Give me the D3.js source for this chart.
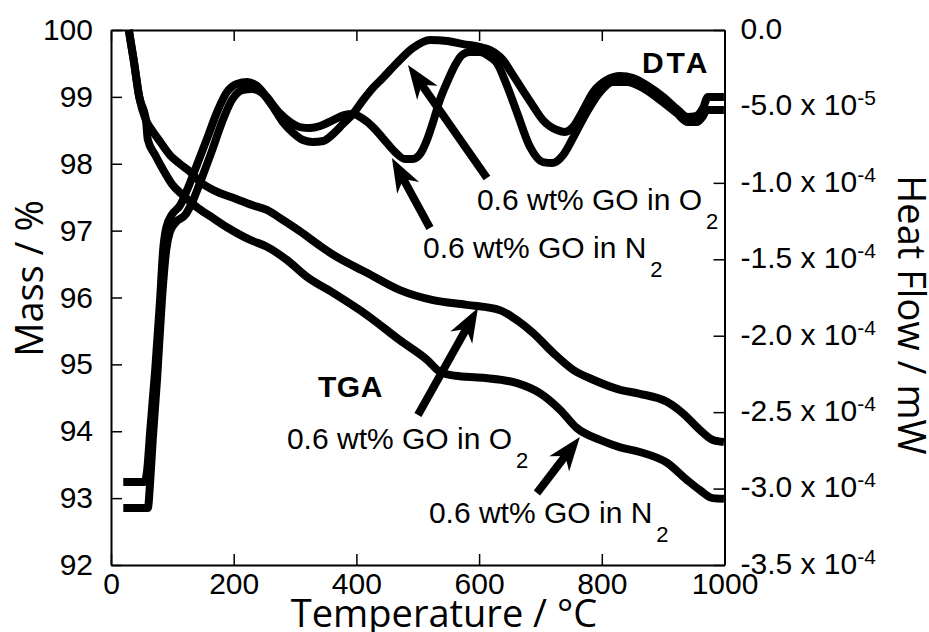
<!DOCTYPE html>
<html><head><meta charset="utf-8">
<script src="https://cdn.jsdelivr.net/npm/d3@7"></script>
<style>body{margin:0;background:#fff}svg{display:block}</style>
</head><body>
<svg id="c" width="929" height="632"></svg>
<script>
// ---------- data ----------
const tempTicks = [0, 200, 400, 600, 800, 1000];
const massTicks = [92, 93, 94, 95, 96, 97, 98, 99, 100];
const hfTicks = [0, -5e-5, -1e-4, -1.5e-4, -2e-4, -2.5e-4, -3e-4, -3.5e-4];
const HF_UNIT = 1e-4; // heat-flow arrays below are in units of 1e-4 mW

// TGA, 0.6 wt% GO in O2 (mass %)
const tgaO2T = [29,37,46,57,67,80,96,112,129,145,173,199,231,254,280,308,341,362,417,471,525,580,634,662,688,721,753,786,830,862,906,932,960,981,999];
const tgaO2Mass = [100.0,99.55,99.0,98.65,98.50,98.33,98.13,98.00,97.88,97.73,97.58,97.49,97.38,97.31,97.16,96.99,96.77,96.64,96.37,96.11,95.96,95.89,95.81,95.66,95.47,95.17,94.92,94.77,94.62,94.56,94.44,94.27,94.02,93.87,93.84];
// TGA, 0.6 wt% GO in N2 (mass %)
const tgaN2T = [29,37,46,57,60,72,85,99,117,140,161,189,227,254,287,319,362,417,471,515,536,561,606,662,699,732,759,797,830,862,906,939,960,981,999];
const tgaN2Mass = [100.0,99.55,99.0,98.65,98.36,98.13,97.91,97.70,97.53,97.35,97.22,97.05,96.86,96.76,96.56,96.31,96.07,95.74,95.36,95.07,94.89,94.83,94.80,94.72,94.57,94.32,94.05,93.87,93.76,93.69,93.53,93.27,93.12,93.00,92.99];
// DTA, 0.6 wt% GO in N2 (x 1e-4 mW)
const dtaN2T = [20,55,59,64,72,80,85,90,99,113,124,140,157,173,189,205,222,238,254,275,292,308,324,341,362,381,394,411,427,443,463,479,492,504,515,525,536,548,561,572,585,601,618,629,645,662,683,704,720,737,753,773,797,818,841,867,895,922,940,955,965,971,999];
const dtaN2HF = [-2.957,-2.957,-2.878,-2.617,-2.224,-1.766,-1.439,-1.295,-1.210,-1.145,-1.047,-0.883,-0.706,-0.536,-0.406,-0.353,-0.340,-0.366,-0.438,-0.543,-0.602,-0.635,-0.641,-0.628,-0.589,-0.556,-0.550,-0.582,-0.635,-0.707,-0.798,-0.844,-0.844,-0.811,-0.720,-0.602,-0.458,-0.340,-0.229,-0.164,-0.144,-0.144,-0.177,-0.216,-0.360,-0.543,-0.765,-0.864,-0.870,-0.818,-0.707,-0.556,-0.406,-0.340,-0.340,-0.379,-0.458,-0.543,-0.602,-0.602,-0.563,-0.523,-0.523];
// DTA, 0.6 wt% GO in O2 (x 1e-4 mW)
const dtaO2T = [20,60,64,68,75,83,90,96,106,121,134,148,165,181,197,214,230,246,262,280,297,313,329,346,362,378,394,411,427,443,466,492,520,548,574,601,618,639,655,671,688,704,727,740,753,768,786,808,830,851,875,900,924,940,953,965,973,999];
const dtaO2HF = [-3.127,-3.127,-2.944,-2.682,-2.290,-1.766,-1.439,-1.321,-1.256,-1.210,-1.112,-0.968,-0.785,-0.602,-0.458,-0.393,-0.386,-0.412,-0.491,-0.602,-0.674,-0.720,-0.733,-0.726,-0.680,-0.615,-0.550,-0.458,-0.379,-0.314,-0.216,-0.118,-0.065,-0.072,-0.092,-0.111,-0.131,-0.196,-0.294,-0.393,-0.497,-0.589,-0.654,-0.667,-0.635,-0.536,-0.406,-0.327,-0.301,-0.314,-0.366,-0.438,-0.523,-0.569,-0.563,-0.510,-0.438,-0.438];

// annotations (positions in temperature / mass coordinates)
const labelTexts = ["0.6 wt% GO in O", "0.6 wt% GO in N", "0.6 wt% GO in O", "0.6 wt% GO in N"];
const labelSubs = ["2", "2", "2", "2"];
const labelT = [596.5, 508.5, 286.8, 518.2];
const labelMass = [97.308, 96.591, 93.735, 92.628];
const arrowTailT = [612.8, 519.9, 500.3, 694.3];
const arrowTailMass = [97.787, 97.039, 94.243, 93.077];
const arrowTipT = [484.0, 457.9, 598.1, 764.3];
const arrowTipMass = [99.477, 98.086, 95.843, 93.914];
const headTexts = ["DTA", "TGA"];
const headT = [865.4, 337.4];
const headMass = [99.357, 94.512];

// ---------- chart ----------
const svg = d3.select("#c");
const L = 111, R = 724.5, TOP = 30, B = 565;
const x = d3.scaleLinear().domain([0, 1000]).range([L, R]);
const yM = d3.scaleLinear().domain([92, 100]).range([B, TOP]);
const yH = d3.scaleLinear().domain([-3.5e-4, 0]).range([B, TOP]);
const sansA = "'Liberation Sans', Arial, Helvetica, sans-serif";
const sansT = "'Open Sans', sans-serif";

function styleAxis(g) {
  g.select(".domain").attr("stroke", "#000").attr("stroke-width", 2);
  g.selectAll(".tick line").attr("stroke", "#000").attr("stroke-width", 1.5);
  g.selectAll("text").attr("font-family", sansA).attr("font-size", 30).attr("fill", "#000");
}

svg.append("g").attr("transform", `translate(0,${B})`)
  .call(d3.axisBottom(x).tickValues(tempTicks).tickSize(-11).tickSizeOuter(0).tickPadding(8).tickFormat(d3.format("d")))
  .call(styleAxis);
svg.append("g").attr("transform", `translate(0,${TOP})`)
  .call(d3.axisTop(x).tickValues(tempTicks).tickSize(-11).tickSizeOuter(0).tickFormat(() => ""))
  .call(styleAxis);
svg.append("g").attr("transform", `translate(${L},0)`)
  .call(d3.axisLeft(yM).tickValues(massTicks).tickSize(-11).tickSizeOuter(0).tickPadding(18).tickFormat(d3.format("d")))
  .call(styleAxis);
const gR = svg.append("g").attr("transform", `translate(${R},0)`)
  .call(d3.axisRight(yH).tickValues(hfTicks).tickSize(-11).tickSizeOuter(0).tickPadding(16))
  .call(styleAxis);
gR.selectAll(".tick text").attr("dy", "0.28em").each(function (d) {
  const t = d3.select(this);
  t.text(null);
  if (d === 0) { t.text("0.0"); return; }
  const parts = d.toExponential(1).split("e");
  t.append("tspan").text(parts[0] + " x 10");
  t.append("tspan").attr("font-size", 21).attr("dy", -10).text(parts[1]);
});

// curves
const lineM = d3.line().x(d => x(d[0])).y(d => yM(d[1])).curve(d3.curveMonotoneX);
const lineH = d3.line().x(d => x(d[0])).y(d => yH(d[1] * HF_UNIT)).curve(d3.curveMonotoneX);
const curves = svg.append("g").attr("fill", "none").attr("stroke", "#000").attr("stroke-width", 8).attr("stroke-linejoin", "round");
curves.append("path").attr("d", lineM(d3.zip(tgaO2T, tgaO2Mass)));
curves.append("path").attr("d", lineM(d3.zip(tgaN2T, tgaN2Mass)));
curves.append("path").attr("d", lineH(d3.zip(dtaN2T, dtaN2HF)));
curves.append("path").attr("d", lineH(d3.zip(dtaO2T, dtaO2HF)));

// arrows
const ag = svg.append("g");
arrowTailT.forEach((_, i) => {
  const x0 = x(arrowTailT[i]), y0 = yM(arrowTailMass[i]);
  const x1 = x(arrowTipT[i]), y1 = yM(arrowTipMass[i]);
  const len = Math.hypot(x1 - x0, y1 - y0);
  const ux = (x1 - x0) / len, uy = (y1 - y0) / len, nx = -uy, ny = ux;
  const hl = 34, hw = 12.5, nl = 24;
  ag.append("line").attr("x1", x0).attr("y1", y0)
    .attr("x2", x1 - ux * nl).attr("y2", y1 - uy * nl)
    .attr("stroke", "#000").attr("stroke-width", 8);
  const pts = [[x1, y1], [x1 - ux * hl + nx * hw, y1 - uy * hl + ny * hw], [x1 - ux * nl, y1 - uy * nl], [x1 - ux * hl - nx * hw, y1 - uy * hl - ny * hw]];
  ag.append("path").attr("d", "M" + pts.map(p => p.join(",")).join("L") + "Z").attr("fill", "#000");
});

// labels
labelTexts.forEach((s, i) => {
  const t = svg.append("text").attr("x", x(labelT[i])).attr("y", yM(labelMass[i]))
    .attr("font-family", sansA).attr("font-size", 30).attr("fill", "#000");
  t.append("tspan").text(s);
  t.append("tspan").attr("dx", 4).attr("dy", 19).attr("font-size", 22).text(labelSubs[i]);
});
headTexts.forEach((s, i) => {
  svg.append("text").attr("x", x(headT[i])).attr("y", yM(headMass[i]))
    .attr("font-family", sansA).attr("font-size", 30).attr("font-weight", "bold")
    .attr("letter-spacing", i === 0 ? 3 : 0.5).attr("fill", "#000").text(s);
});

// axis titles
svg.append("text").attr("x", 444).attr("y", 627).attr("text-anchor", "middle")
  .attr("font-family", sansT).attr("font-size", 38).attr("fill", "#000").text("Temperature / °C");
svg.append("text").attr("transform", "translate(43,278.5) rotate(-90)").attr("text-anchor", "middle")
  .attr("font-family", sansT).attr("font-size", 38).attr("fill", "#000").text("Mass / %");
svg.append("text").attr("transform", "translate(898,315) rotate(90)").attr("text-anchor", "middle")
  .attr("font-family", sansT).attr("font-size", 38).attr("fill", "#000").text("Heat Flow / mW");
</script>
</body></html>
